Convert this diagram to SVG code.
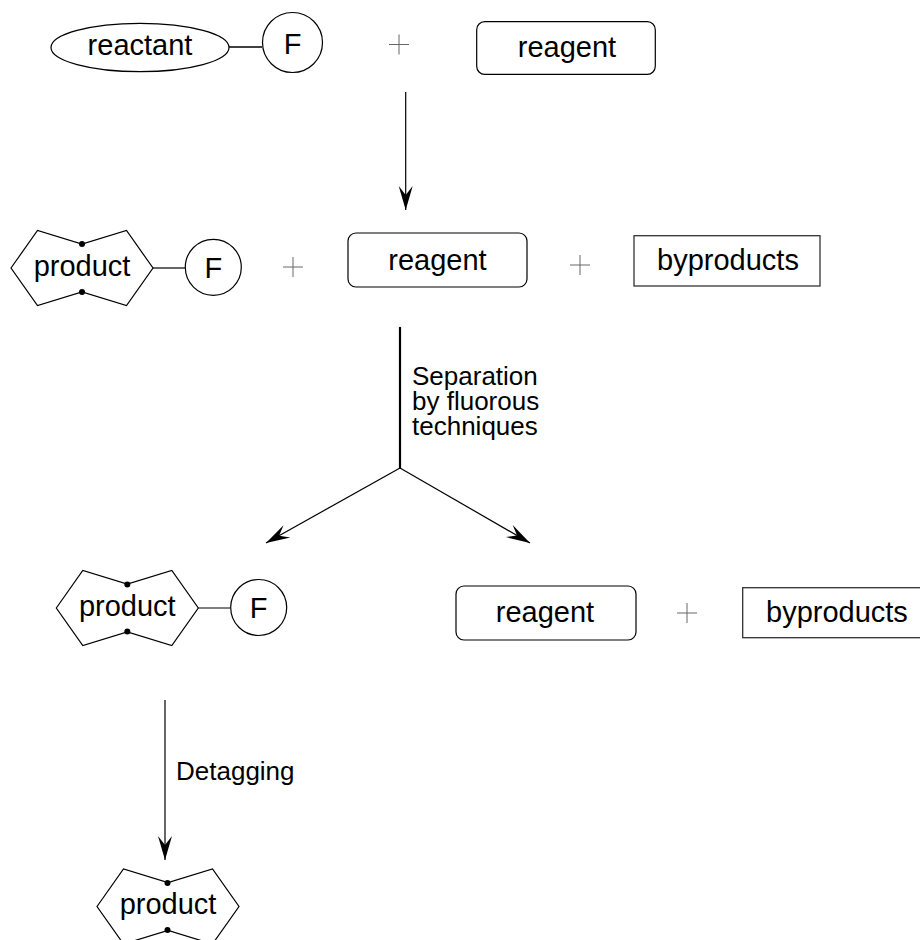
<svg xmlns="http://www.w3.org/2000/svg" width="920" height="940" viewBox="0 0 920 940">
<style>
  .shape { fill: #fff; stroke: #000; stroke-width: 1.2; }
  .box { fill: #fff; stroke: #333; stroke-width: 1.3; }
  .lbl { font-family: "Liberation Sans", Arial, Helvetica, sans-serif; font-size: 29px; fill: #000; }
  .note { font-family: "Liberation Sans", Arial, Helvetica, sans-serif; font-size: 26px; fill: #000; }
  .bond { stroke: #000; stroke-width: 1.5; fill: none; }
  .plus { stroke: #666; stroke-width: 1; fill: none; }
  .conn { stroke: #000; stroke-width: 1.2; fill: none; }
  .dot { fill: #000; }
</style>
<defs>
  <marker id="arrow" viewBox="-26 -9 27 18" markerWidth="27" markerHeight="18" refX="0" refY="0" orient="auto" markerUnits="userSpaceOnUse">
    <path d="M0,0 L-24,-7 L-15,0 L-24,7 Z" fill="#000"/>
  </marker>
  <polygon id="hex" points="-71,0 -44.5,-37.5 0,-24 44.5,-37.5 71,0 44.5,37.5 0,24 -44.5,37.5"/>
</defs>
<rect width="920" height="940" fill="#fff"/>

<!-- Row 1 -->
<g id="reactant">
  <ellipse class="shape" cx="140" cy="47.5" rx="89" ry="24.2"/>
  <text class="lbl" x="140" y="55" text-anchor="middle">reactant</text>
</g>
<g id="bond1"><line class="bond" x1="229" y1="47" x2="262" y2="47"/></g>
<g id="F1">
  <circle class="shape" cx="292.5" cy="42.5" r="30"/>
  <text class="lbl" x="292.5" y="53.5" text-anchor="middle">F</text>
</g>
<g id="plus1"><path class="plus" d="M389,44.5 H409 M399,34.5 V54.5"/></g>
<g id="reagent1">
  <rect class="shape" x="476.7" y="21.7" width="178.6" height="52.6" rx="8"/>
  <text class="lbl" x="567" y="57" text-anchor="middle">reagent</text>
</g>

<!-- Row 2 -->
<g id="product2">
  <use href="#hex" class="shape" x="82" y="268"/>
  <circle class="dot" cx="82" cy="244" r="3"/>
  <circle class="dot" cx="82" cy="292" r="3"/>
  <text class="lbl" x="82" y="275.5" text-anchor="middle">product</text>
</g>
<g id="bond2"><line class="conn" x1="153" y1="268" x2="185" y2="268"/></g>
<g id="F2">
  <circle class="shape" cx="213.3" cy="267.3" r="28"/>
  <text class="lbl" x="213.3" y="277.5" text-anchor="middle">F</text>
</g>
<g id="plus2"><path class="plus" d="M283,267 H303 M293,257 V277"/></g>
<g id="reagent2">
  <rect class="shape" x="348" y="233" width="179" height="54" rx="8"/>
  <text class="lbl" x="437.5" y="269.5" text-anchor="middle">reagent</text>
</g>
<g id="plus3"><path class="plus" d="M570,265 H590 M580,255 V275"/></g>
<g id="byproducts2">
  <rect class="box" x="634" y="235.7" width="186" height="50.3"/>
  <text class="lbl" x="728" y="269.5" text-anchor="middle">byproducts</text>
</g>

<!-- Row 3 -->
<g id="product3">
  <use href="#hex" class="shape" x="127.3" y="608"/>
  <circle class="dot" cx="127.3" cy="584.5" r="3"/>
  <circle class="dot" cx="127.3" cy="631.5" r="3"/>
  <text class="lbl" x="127.3" y="615.5" text-anchor="middle">product</text>
</g>
<g id="bond3"><line class="conn" x1="198.3" y1="608" x2="230.5" y2="608" stroke="#444"/></g>
<g id="F3">
  <circle class="shape" cx="258.7" cy="607.5" r="28"/>
  <text class="lbl" x="258.7" y="618" text-anchor="middle">F</text>
</g>
<g id="reagent3">
  <rect class="shape" x="456" y="586" width="180" height="54" rx="8"/>
  <text class="lbl" x="545" y="622" text-anchor="middle">reagent</text>
</g>
<g id="plus4"><path class="plus" d="M677,613 H697 M687,603 V623"/></g>
<g id="byproducts3">
  <rect class="box" x="742.7" y="587.7" width="186" height="50"/>
  <text class="lbl" x="766" y="621.5">byproducts</text>
</g>

<!-- Row 4 -->
<g id="product4">
  <use href="#hex" class="shape" x="168" y="906.5"/>
  <circle class="dot" cx="167.5" cy="883" r="3"/>
  <circle class="dot" cx="167.5" cy="930" r="3"/>
  <text class="lbl" x="168" y="913.5" text-anchor="middle">product</text>
</g>

<!-- Connectors -->
<g id="connectors">
  <line class="conn" x1="405.7" y1="92" x2="405.7" y2="210" marker-end="url(#arrow)"/>
  <line x1="400" y1="327" x2="400" y2="468.5" stroke="#000" stroke-width="2.2"/>
  <line class="conn" x1="400" y1="468" x2="266" y2="543" marker-end="url(#arrow)"/>
  <line class="conn" x1="400" y1="468" x2="530" y2="543" marker-end="url(#arrow)"/>
  <line class="conn" x1="165" y1="700" x2="165" y2="860" stroke="#444" marker-end="url(#arrow)"/>
  <text class="note" x="412" y="385">Separation</text>
  <text class="note" x="412" y="410">by fluorous</text>
  <text class="note" x="412" y="435">techniques</text>
  <text class="note" x="176" y="780">Detagging</text>
</g>
</svg>
